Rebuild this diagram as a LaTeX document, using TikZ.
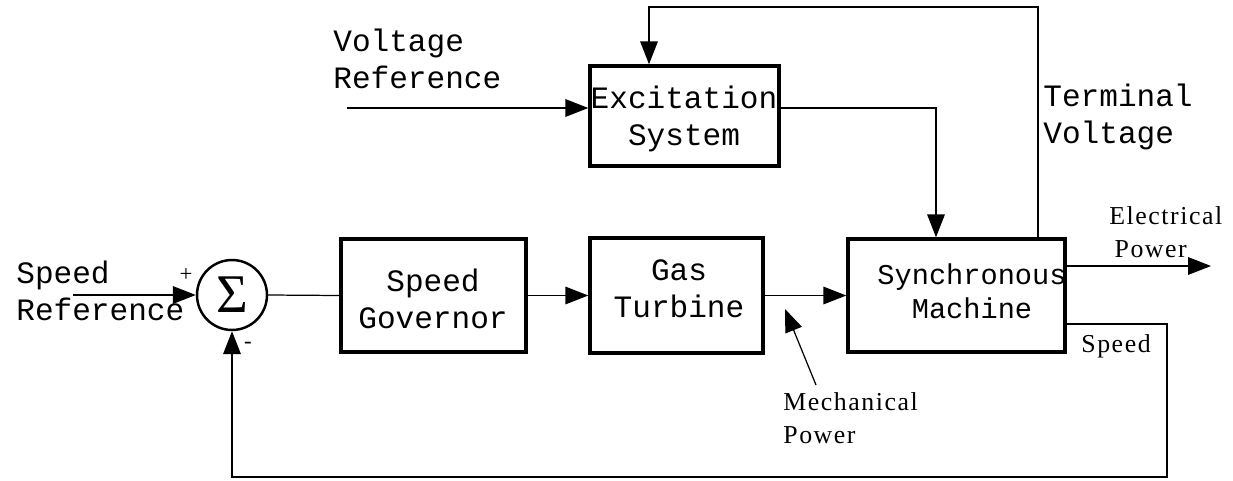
\documentclass[tikz,border=0pt]{standalone}
\usepackage{fontspec}
\setmonofont{Liberation Mono}
\newfontfamily\labelfont[LetterSpace=6]{Liberation Serif}
\newfontfamily\sigmafont{Liberation Serif}
\usetikzlibrary{arrows.meta, positioning}

\begin{document}
\begin{tikzpicture}[x=0.02cm, y=-0.02cm,
    block/.style={draw, line width=2pt, inner sep=0pt},
    blocktext/.style={font=\ttfamily\fontsize{17.7}{21}\selectfont, align=center, anchor=base, inner sep=0pt},
    sigtext/.style={font=\labelfont\fontsize{14.7}{18.5}\selectfont, align=left, anchor=base west, inner sep=0pt},
    sig/.style={line width=0.7pt, -{Triangle[length=13pt, width=10pt]}},
    wire/.style={line width=0.7pt}]
          \useasboundingbox (0,0) rectangle (1233,480);

          % Blocks
          \node[circle, draw, line width=1.4pt, minimum size=1.4cm, inner sep=0pt, font=\sigmafont\fontsize{31}{31}\selectfont] (sum) at (232,295) {Σ};
          \node[block, minimum width=3.7cm, minimum height=2.26cm] (gov) at (433.5,295.5) {};
          \node[block, minimum width=3.46cm, minimum height=2.3cm] (turb) at (676.5,295.5) {};
          \node[block, minimum width=4.34cm, minimum height=2.26cm] (sync) at (956.5,295.5) {};
          \node[block, minimum width=3.78cm, minimum height=2cm] (exc) at (684.5,116) {};

          % Block texts (anchored at the baseline of the last line)
          \node[blocktext] (govtext) at (433,328) {Speed\\Governor};
          \node[blocktext] (turbtext) at (679,317) {Gas\\Turbine};
          \node[blocktext, font=\ttfamily\fontsize{16.3}{19}\selectfont] (synctext) at (972,318) {Synchronous\\Machine};
          \node[blocktext] (exctext) at (684,145) {Excitation\\System};

          % Free ends
          \coordinate (sref) at (73,295);
          \coordinate (vref) at (347,108);
          \coordinate (excout) at (936,108);
          \coordinate (tv) at (1038,7);
          \coordinate (fb) at (649,7);
          \coordinate (spd) at (1167,324);
          \coordinate (fbot) at (1167,477);
          \coordinate (pel) at (1211,266);
          \coordinate (mtail) at (816,385);
          \coordinate (mtip) at (785,309);

          % Signals
          \draw[sig] (sref) -- (sum.west);
          \draw[wire] (sum.east) -- (gov.west);
          \draw[sig] (gov.east) -- (turb.west);
          \draw[sig] (turb.east) -- (sync.west);
          \draw[sig] (vref) -- (vref -| exc.west);
          \draw[sig] (vref -| exc.east) -- (excout) -- (excout |- sync.north);
          \draw[sig] (tv |- sync.north) -- (tv) -- (fb) -- (fb |- exc.north);
          \draw[sig] (pel -| sync.east) -- (pel);
          \draw[sig] (spd -| sync.east) -- (spd) -- (fbot) -| (sum.south);
          \draw[sig] (mtail) -- (mtip);

          % Labels
          \node[blocktext, anchor=base west, align=left] (sreftext) at (16,320) {Speed\\Reference};
          \node[blocktext, anchor=base west, align=left] (vreftext) at (333,88) {Voltage\\Reference};
          \node[blocktext, anchor=base west, align=left] (tvtext) at (1043,143) {Terminal\\Voltage};
          \node[sigtext] (peltext) at (1109,257) {Electrical\\\hspace*{3pt}Power};
          \node[sigtext] (mechtext) at (783,443) {Mechanical\\Power};
          \node[sigtext] (spdtext) at (1081,352) {Speed};
          \node[font=\labelfont\fontsize{13}{13}\selectfont, inner sep=0pt] (plus) at (186,275) {+};
          \node[font=\labelfont\fontsize{13}{13}\selectfont, inner sep=0pt] (minus) at (248,345) {-};
    \end{tikzpicture}
\end{document}
